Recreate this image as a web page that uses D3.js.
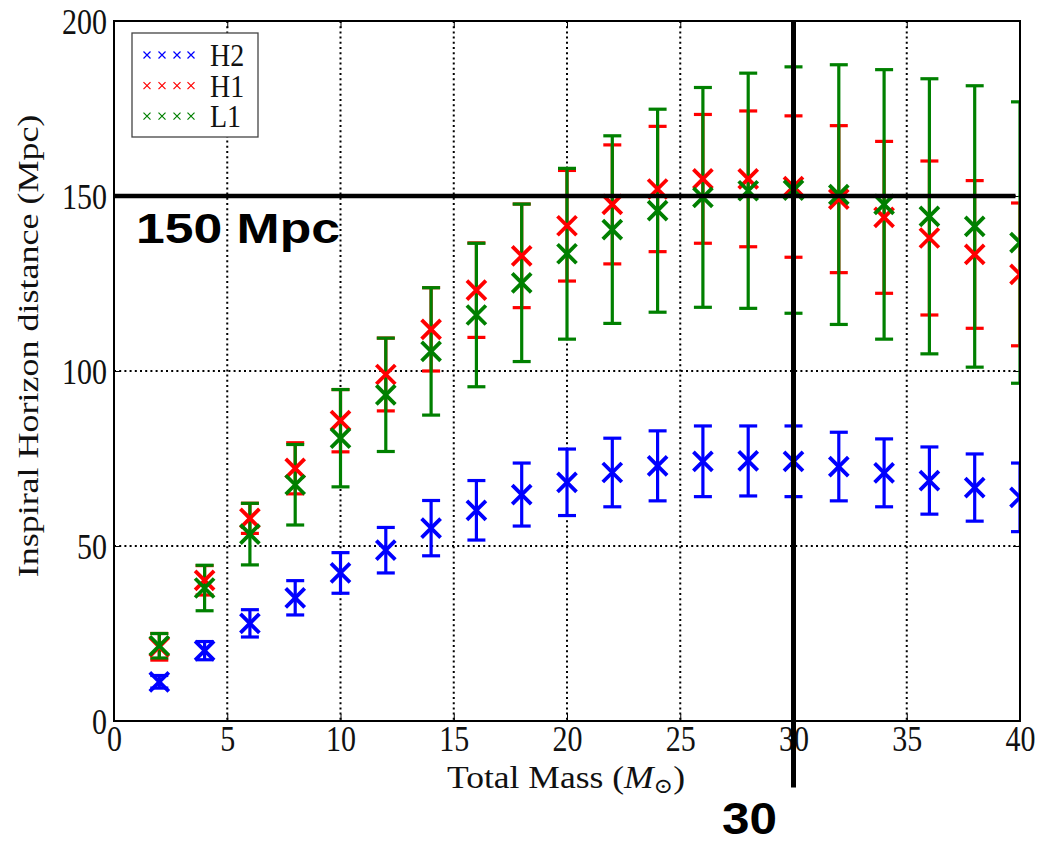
<!DOCTYPE html>
<html lang="en">
<head>
<meta charset="UTF-8">
<title>Inspiral Horizon distance vs Total Mass</title>
<script src="https://cdnjs.cloudflare.com/ajax/libs/d3/7.8.5/d3.min.js"></script>
<style>
  body { margin: 0; background: #fff; }
  .serif { font-family: "Liberation Serif", "DejaVu Serif", serif; fill: #111; }
  .callout { font-family: "Liberation Sans", Arial, sans-serif; font-weight: bold; fill: #000; }
  .grid line { stroke: #000; stroke-width: 2; stroke-dasharray: 2,3.2; }
  .axis line { stroke: #000; stroke-width: 1; }
</style>
</head>
<body>
<svg id="chart" width="1045" height="844"></svg>
<script>
// values
const masses = [2, 4, 6, 8, 10, 12, 14, 16, 18, 20, 22, 24, 26, 28, 30, 32, 34, 36, 38, 40];
const h2Dist = [11.2, 20.1, 27.9, 35.2, 42.3, 48.8, 55.1, 60.2, 64.7, 68.2, 71.0, 72.9, 74.2, 74.3, 74.2, 72.7, 70.9, 68.7, 66.7, 63.9];
const h2Err  = [1.8, 2.6, 3.9, 4.9, 5.8, 6.5, 7.9, 8.5, 9.0, 9.5, 9.8, 10.0, 10.1, 10.0, 10.1, 9.8, 9.7, 9.6, 9.6, 9.8];
const h1Dist = [21.2, 40.2, 57.9, 72.2, 85.8, 99.0, 111.9, 123.1, 132.9, 141.5, 147.6, 152.0, 154.9, 154.9, 152.7, 149.1, 143.9, 138.0, 133.3, 127.6];
const h1Err  = [3.8, 4.2, 4.3, 7.3, 8.9, 10.4, 11.9, 13.5, 14.8, 15.8, 17.0, 17.9, 18.4, 19.4, 20.2, 21.0, 21.7, 22.0, 21.1, 20.4];
const l1Dist = [21.5, 38.0, 53.4, 67.5, 80.8, 93.2, 105.6, 116.0, 125.2, 133.5, 140.4, 145.8, 149.6, 151.5, 151.7, 150.4, 147.6, 144.2, 141.3, 136.7];
const l1Err  = [3.5, 6.5, 8.8, 11.5, 13.9, 16.2, 18.2, 20.5, 22.5, 24.4, 26.8, 29.0, 31.4, 33.6, 35.2, 37.1, 38.5, 39.3, 40.2, 40.2];

const seriesNames = ["H2", "H1", "L1"];
const xTicks = [0, 5, 10, 15, 20, 25, 30, 35, 40];
const yTicks = [0, 50, 100, 150, 200];
const refMass = 30;      // vertical marker
const refDist = 150;     // horizontal marker

const colors = {H2: "#0000ff", H1: "#ff0000", L1: "#008000"};
const series = [
    {name: "H2", dist: h2Dist, err: h2Err},
    {name: "H1", dist: h1Dist, err: h1Err},
    {name: "L1", dist: l1Dist, err: l1Err}
];

const plotL = 114, plotT = 21, plotR = 1020, plotB = 721;
const svg = d3.select("#chart");

const x = d3.scaleLinear().domain([0, 40]).range([plotL, plotR]);
const y = d3.scaleLinear().domain([0, 200]).range([plotB, plotT]);

// dotted grid
const grid = svg.append("g").attr("class", "grid");
grid.selectAll(".gx").data(xTicks.slice(1, -1)).enter().append("line")
    .attr("x1", d => x(d)).attr("x2", d => x(d))
    .attr("y1", plotT).attr("y2", plotB);
grid.selectAll(".gy").data(yTicks.slice(1, -1)).enter().append("line")
    .attr("x1", plotL).attr("x2", plotR)
    .attr("y1", d => y(d)).attr("y2", d => y(d));

// axes, ticks pointing inward
const stretch = "scale(1,1.2)";
const gx = svg.append("g").attr("class", "axis serif")
    .attr("transform", `translate(0,${plotB})`)
    .call(d3.axisBottom(x).tickValues(xTicks).tickSize(-7).tickSizeOuter(0));
gx.selectAll("text").attr("y", 25).attr("dy", 0).attr("transform", stretch)
    .style("font-size", "30px").style("font-family", "Liberation Serif, serif").attr("fill", "#111");

const gy = svg.append("g").attr("class", "axis serif")
    .attr("transform", `translate(${plotL},0)`)
    .call(d3.axisLeft(y).tickValues(yTicks).tickSize(-7).tickSizeOuter(0));
gy.selectAll("text").attr("x", -7).attr("y", 10).attr("dy", 0).attr("transform", stretch)
    .style("font-size", "30px").style("font-family", "Liberation Serif, serif").attr("fill", "#111");

svg.append("g").attr("class", "axis")
    .attr("transform", `translate(0,${plotT})`)
    .call(d3.axisTop(x).tickValues(xTicks).tickSize(-7).tickSizeOuter(0).tickFormat(""));
svg.append("g").attr("class", "axis")
    .attr("transform", `translate(${plotR},0)`)
    .call(d3.axisRight(y).tickValues(yTicks).tickSize(-7).tickSizeOuter(0).tickFormat(""));
svg.selectAll(".axis .domain").remove();

// clip for data
svg.append("clipPath").attr("id", "plotClip")
    .append("rect").attr("x", plotL).attr("y", plotT)
    .attr("width", plotR - plotL).attr("height", plotB - plotT);

const plot = svg.append("g").attr("clip-path", "url(#plotClip)");

// error bars first (all series), then markers on top
const capW = 9;
series.forEach(s => {
    const g = plot.append("g").attr("stroke", colors[s.name]).attr("stroke-width", 3.2);
    masses.forEach((m, i) => {
        const lo = y(s.dist[i] - s.err[i]), hi = y(s.dist[i] + s.err[i]);
        g.append("line").attr("x1", x(m)).attr("x2", x(m)).attr("y1", lo).attr("y2", hi);
        g.append("line").attr("x1", x(m) - capW).attr("x2", x(m) + capW).attr("y1", lo).attr("y2", lo);
        g.append("line").attr("x1", x(m) - capW).attr("x2", x(m) + capW).attr("y1", hi).attr("y2", hi);
    });
});

const mk = 9.5;
series.forEach(s => {
    const g = plot.append("g").attr("stroke", colors[s.name]).attr("stroke-width", 3.8);
    masses.forEach((m, i) => {
        const cx = x(m), cy = y(s.dist[i]);
        g.append("path").attr("d", `M${cx - mk},${cy - mk}L${cx + mk},${cy + mk}M${cx - mk},${cy + mk}L${cx + mk},${cy - mk}`);
    });
});

// frame
svg.append("rect").attr("x", plotL).attr("y", plotT)
    .attr("width", plotR - plotL).attr("height", plotB - plotT)
    .attr("fill", "none").attr("stroke", "#000").attr("stroke-width", 2);

// legend
const lg = svg.append("g");
lg.append("rect").attr("x", 132).attr("y", 33).attr("width", 126).attr("height", 104)
    .attr("fill", "#fff").attr("stroke", "#444").attr("stroke-width", 1.3);
seriesNames.forEach((name, r) => {
    const baseY = 66 + r * 30.6;
    const my = baseY - 11;
    [147, 162, 177, 191].forEach(mx => {
        lg.append("path")
            .attr("d", `M${mx - 3.5},${my - 3.5}L${mx + 3.5},${my + 3.5}M${mx - 3.5},${my + 3.5}L${mx + 3.5},${my - 3.5}`)
            .attr("stroke", colors[name]).attr("stroke-width", 1.2);
    });
    lg.append("text").attr("class", "serif")
        .attr("transform", `translate(210,${baseY}) scale(1,1.15)`)
        .style("font-size", "28px").text(name);
});

// axis titles
const xt = svg.append("text").attr("class", "serif")
    .attr("x", 566).attr("y", 788)
    .attr("textLength", 238).attr("lengthAdjust", "spacingAndGlyphs")
    .attr("text-anchor", "middle").style("font-size", "32px");
xt.append("tspan").text("Total Mass (");
xt.append("tspan").style("font-style", "italic").text("M");
xt.append("tspan").attr("dy", 5).style("font-size", "21px").style("font-family", "DejaVu Serif, serif").text("\u2299");
xt.append("tspan").attr("dy", -5).text(")");

svg.append("text").attr("class", "serif")
    .attr("transform", "translate(38,346) rotate(-90) scale(1.2,1)")
    .attr("text-anchor", "middle").style("font-size", "30px")
    .text("Inspiral Horizon distance (Mpc)");

// thick reference lines
svg.append("line")
    .attr("x1", x(0)).attr("x2", x(39.8))
    .attr("y1", y(refDist)).attr("y2", y(refDist))
    .attr("stroke", "#000").attr("stroke-width", 4.5);
svg.append("line")
    .attr("x1", x(refMass)).attr("x2", x(refMass))
    .attr("y1", y(200)).attr("y2", y(-19))
    .attr("stroke", "#000").attr("stroke-width", 5);

svg.append("text").attr("class", "callout")
    .attr("x", 136).attr("y", 243)
    .attr("textLength", 204).attr("lengthAdjust", "spacingAndGlyphs")
    .style("font-size", "43px").text("150 Mpc");
svg.append("text").attr("class", "callout")
    .attr("x", 722).attr("y", 834)
    .attr("textLength", 55).attr("lengthAdjust", "spacingAndGlyphs")
    .style("font-size", "44px").text(refMass);
</script>
</body>
</html>
